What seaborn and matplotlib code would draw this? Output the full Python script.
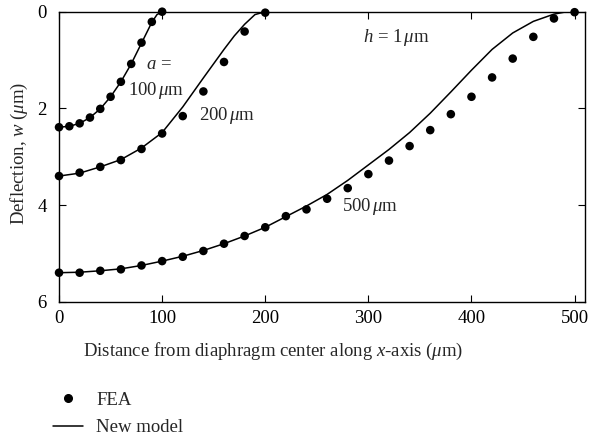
import numpy as np
import pandas as pd
import matplotlib
matplotlib.use('Agg')
import matplotlib.pyplot as plt
from matplotlib.lines import Line2D
import seaborn as sns

# ------------------------------------------------------------ #
# data
# ------------------------------------------------------------ #

# FEA points, a = 100 um
fea_x_100 = [0, 10, 20, 30, 40, 50, 60, 70, 80, 90, 100]
fea_w_100 = [2.39, 2.37, 2.31, 2.19, 2.01, 1.76, 1.45, 1.08, 0.64, 0.21, 0.0]

# FEA points, a = 200 um
fea_x_200 = [0, 20, 40, 60, 80, 100, 120, 140, 160, 180, 200]
fea_w_200 = [3.40, 3.33, 3.21, 3.07, 2.84, 2.52, 2.16, 1.65, 1.04, 0.41, 0.02]

# FEA points, a = 500 um
fea_x_500 = [0, 20, 40, 60, 80, 100, 120, 140, 160, 180, 200, 220, 240,
             260, 280, 300, 320, 340, 360, 380, 400, 420, 440, 460, 480, 500]
fea_w_500 = [5.40, 5.40, 5.36, 5.33, 5.25, 5.16, 5.07, 4.95, 4.80, 4.64, 4.46,
             4.23, 4.09, 3.87, 3.65, 3.36, 3.08, 2.78, 2.45, 2.12, 1.76, 1.36,
             0.97, 0.52, 0.14, 0.01]

# New model curves
model_x_100 = [0, 10, 20, 30, 40, 50, 60, 70, 80, 90, 95, 100]
model_w_100 = [2.39, 2.37, 2.31, 2.19, 2.01, 1.76, 1.45, 1.08, 0.65, 0.22, 0.06, 0.0]

model_x_200 = [0, 20, 40, 60, 80, 100, 120, 140, 160, 170, 180, 190, 200]
model_w_200 = [3.40, 3.34, 3.21, 3.06, 2.82, 2.50, 1.97, 1.37, 0.78, 0.50, 0.26, 0.06, 0.0]

model_x_500 = [0, 20, 40, 60, 80, 100, 120, 140, 160, 180, 200, 220, 240,
               260, 280, 300, 320, 340, 360, 380, 400, 420, 440, 460, 480, 490, 500]
model_w_500 = [5.40, 5.39, 5.36, 5.32, 5.25, 5.16, 5.06, 4.94, 4.80, 4.64, 4.46,
               4.24, 4.02, 3.78, 3.49, 3.17, 2.85, 2.50, 2.10, 1.66, 1.21, 0.78,
               0.44, 0.20, 0.05, 0.01, 0.0]

# ------------------------------------------------------------ #
# style
# ------------------------------------------------------------ #

sns.set_style('ticks')
plt.rcParams['font.family'] = ['Liberation Serif', 'DejaVu Serif']
plt.rcParams['mathtext.fontset'] = 'custom'
plt.rcParams['mathtext.rm'] = 'Liberation Serif'
plt.rcParams['mathtext.it'] = 'Liberation Serif:italic'
FS = 13.5

fig = plt.figure(figsize=(5.92, 4.40), dpi=100)
ax = fig.add_axes([0.0997, 0.3143, 0.8883, 0.6591])

# ------------------------------------------------------------ #
# plot
# ------------------------------------------------------------ #

for mx, mw in [(model_x_100, model_w_100), (model_x_200, model_w_200),
               (model_x_500, model_w_500)]:
    df = pd.DataFrame({'x': mx, 'w': mw})
    sns.lineplot(data=df, x='x', y='w', color='black', linewidth=1.1,
                 sort=False, estimator=None, ax=ax)

for fx, fw in [(fea_x_100, fea_w_100), (fea_x_200, fea_w_200),
               (fea_x_500, fea_w_500)]:
    df = pd.DataFrame({'x': fx, 'w': fw})
    sns.scatterplot(data=df, x='x', y='w', color='black', s=38,
                    edgecolor='none', ax=ax, clip_on=False, zorder=5)

ax.set_xlim(0, 510)
ax.set_ylim(6, 0)
ax.set_xticks([0, 100, 200, 300, 400, 500])
ax.set_yticks([0, 2, 4, 6])
ax.tick_params(direction='in', length=5, width=0.8, top=True, right=True,
               labelsize=FS, colors='black')
ax.tick_params(axis='x', pad=6)
ax.tick_params(axis='y', pad=9)
for sp in ax.spines.values():
    sp.set_visible(True)
    sp.set_linewidth(1.0)
    sp.set_color('black')

ax.set_xlabel(r'Distance from diaphragm center along $x$-axis ($\mu$m)', fontsize=FS)
ax.set_ylabel(r'Deflection, $w$ ($\mu$m)', fontsize=FS)
ax.xaxis.set_label_coords(0.407, -0.135)
ax.yaxis.set_label_coords(-0.056, 0.51)

# curve annotations
ax.text(97, 1.10, r'$a$ =', ha='center', va='center', fontsize=FS)
ax.text(94, 1.64, r'100$\,\mu$m', ha='center', va='center', fontsize=FS)
ax.text(163, 2.14, r'200$\,\mu$m', ha='center', va='center', fontsize=FS)
ax.text(302, 4.04, r'500$\,\mu$m', ha='center', va='center', fontsize=FS)
ax.text(327, 0.53, r'$h$ = 1$\,\mu$m', ha='center', va='center', fontsize=FS)

# legend below the axes
handles = [Line2D([], [], marker='o', color='black', linestyle='none', markersize=5.5),
           Line2D([], [], color='black', linewidth=1.1)]
fig.legend(handles, ['FEA', 'New model'], loc='upper left',
           bbox_to_anchor=(0.0895, 0.110), frameon=False, borderpad=0,
           borderaxespad=0, handlelength=1.6, handletextpad=0.7,
           labelspacing=0.55, fontsize=FS)

plt.savefig('out.png', dpi=100)
